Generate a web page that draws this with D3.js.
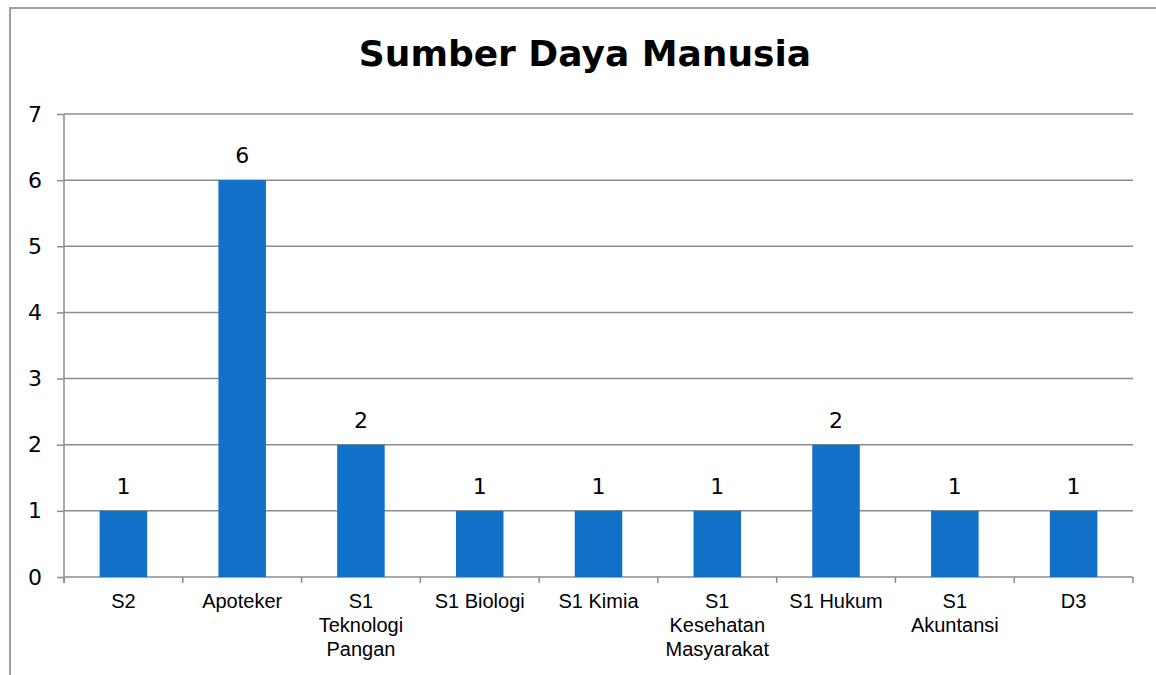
<!DOCTYPE html>
<html>
<head>
<meta charset="utf-8">
<script src="https://cdn.jsdelivr.net/npm/d3@7"></script>
<style>
  body { margin: 0; background: #fff; }
</style>
</head>
<body>
<div id="chart"></div>
<script>
// Data
const categories = ['S2', 'Apoteker', 'S1 Teknologi Pangan', 'S1 Biologi', 'S1 Kimia',
  'S1 Kesehatan Masyarakat', 'S1 Hukum', 'S1 Akuntansi', 'D3'];
const values = [1, 6, 2, 1, 1, 1, 2, 1, 1];
const yTicks = [0, 1, 2, 3, 4, 5, 6, 7];
const title = 'Sumber Daya Manusia';

const W = 1156, H = 675;
const margin = { top: 114, right: 23, bottom: 98, left: 64 };
const width = W - margin.left - margin.right;
const height = H - margin.top - margin.bottom;

const svg = d3.select('#chart').append('svg')
  .attr('width', W)
  .attr('height', H);

// outer frame (runs off the right and bottom edge)
svg.append('rect')
  .attr('x', 10).attr('y', 8)
  .attr('width', 1200).attr('height', 800)
  .attr('fill', 'none')
  .attr('stroke', '#a0a0a0')
  .attr('stroke-width', 2);

svg.append('text')
  .attr('x', 585).attr('y', 66)
  .attr('text-anchor', 'middle')
  .style('font-family', '"DejaVu Sans", sans-serif')
  .style('font-weight', 'bold')
  .style('font-size', '36px')
  .attr('fill', '#000')
  .text(title);

const g = svg.append('g')
  .attr('transform', `translate(${margin.left},${margin.top})`);

const x = d3.scaleBand().domain(categories).range([0, width]).padding(0);
const y = d3.scaleLinear().domain([0, 7]).range([height, 0]);

// y axis
const yAxis = d3.axisLeft(y).tickValues(yTicks).tickFormat(d3.format('d'))
  .tickSize(7).tickPadding(15);
const ya = g.append('g').call(yAxis);
ya.select('.domain').attr('stroke', '#8c8c8c').attr('stroke-width', 1.5)
  .attr('d', `M0,${height + 6}V0`);
ya.selectAll('.tick line').attr('stroke', '#8c8c8c').attr('stroke-width', 1.5);
ya.selectAll('.tick text')
  .style('font-family', '"DejaVu Sans", sans-serif')
  .style('font-size', '22px')
  .attr('fill', '#000');

// gridlines
g.append('g').selectAll('line')
  .data(yTicks)
  .join('line')
  .attr('x1', 0).attr('x2', width)
  .attr('y1', d => y(d)).attr('y2', d => y(d))
  .attr('stroke', '#8c8c8c')
  .attr('stroke-width', 1.5);

// category boundary ticks
const bounds = d3.range(categories.length + 1).map(i => i * x.step());
g.append('g').selectAll('line')
  .data(bounds)
  .join('line')
  .attr('x1', d => d).attr('x2', d => d)
  .attr('y1', height).attr('y2', height + 6)
  .attr('stroke', '#8c8c8c')
  .attr('stroke-width', 1.5);

// bars
const bw = x.bandwidth() * 0.4;
g.selectAll('rect.bar')
  .data(values)
  .join('rect')
  .attr('class', 'bar')
  .attr('x', (d, i) => x(categories[i]) + (x.bandwidth() - bw) / 2)
  .attr('y', d => y(d))
  .attr('width', bw)
  .attr('height', d => height - y(d))
  .attr('fill', '#1170c8');

// value labels
g.selectAll('text.val')
  .data(values)
  .join('text')
  .attr('class', 'val')
  .attr('x', (d, i) => x(categories[i]) + x.bandwidth() / 2)
  .attr('y', d => y(d) - 17)
  .attr('text-anchor', 'middle')
  .style('font-family', '"DejaVu Sans", sans-serif')
  .style('font-size', '22px')
  .text(d => d);

// category labels, wrapped to the band
const maxW = 100;
const labels = g.append('g').selectAll('text')
  .data(categories)
  .join('text')
  .attr('x', d => x(d) + x.bandwidth() / 2)
  .attr('y', height + 31)
  .attr('text-anchor', 'middle')
  .style('font-family', '"Liberation Sans", Arial, sans-serif')
  .style('font-size', '20px')
  .attr('fill', '#000');

labels.each(function(d) {
  const t = d3.select(this);
  const words = d.split(' ');
  let line = [];
  let ts = t.append('tspan').attr('x', t.attr('x')).attr('dy', 0);
  words.forEach(w => {
    line.push(w);
    ts.text(line.join(' '));
    if (ts.node().getComputedTextLength() > maxW && line.length > 1) {
      line.pop();
      ts.text(line.join(' '));
      line = [w];
      ts = t.append('tspan').attr('x', t.attr('x')).attr('dy', 24).text(w);
    }
  });
});
</script>
</body>
</html>
